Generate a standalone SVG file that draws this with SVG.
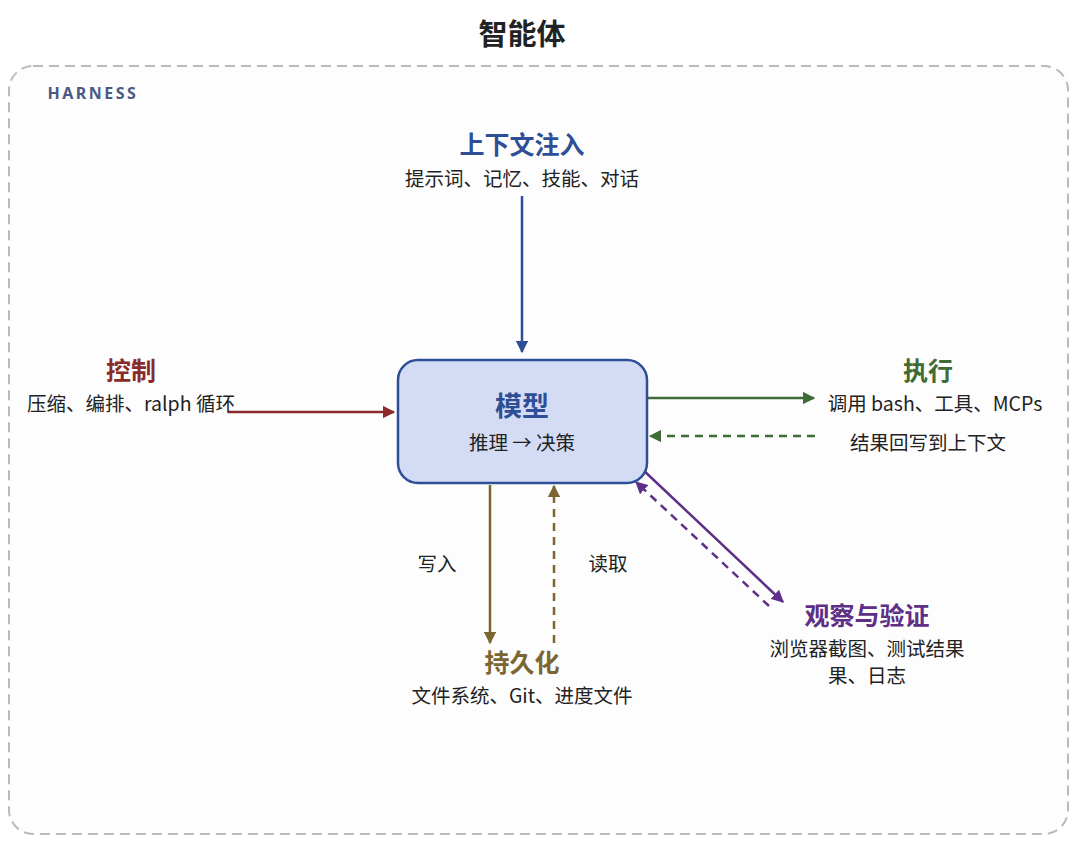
<svg xmlns="http://www.w3.org/2000/svg" width="1080" height="851" viewBox="0 0 1080 851">
<style>
text{font-family:"Noto Sans CJK SC","Noto Sans",sans-serif;text-anchor:middle}
.t{font-size:25px;font-weight:bold}
.s{font-size:19.5px;fill:#222}
.l{stroke-width:2.5;fill:none}
.d{stroke-dasharray:8 6}
</style>
<defs>
<marker id="ab" viewBox="0 0 10 10" refX="9" refY="5" markerWidth="5" markerHeight="5" orient="auto-start-reverse"><path d="M0,0L10,5L0,10z" fill="#2e4f95"/></marker>
<marker id="ar" viewBox="0 0 10 10" refX="9" refY="5" markerWidth="5" markerHeight="5" orient="auto-start-reverse"><path d="M0,0L10,5L0,10z" fill="#8b2a2a"/></marker>
<marker id="ag" viewBox="0 0 10 10" refX="9" refY="5" markerWidth="5" markerHeight="5" orient="auto-start-reverse"><path d="M0,0L10,5L0,10z" fill="#3f6b35"/></marker>
<marker id="ao" viewBox="0 0 10 10" refX="9" refY="5" markerWidth="5" markerHeight="5" orient="auto-start-reverse"><path d="M0,0L10,5L0,10z" fill="#7d6532"/></marker>
<marker id="ap" viewBox="0 0 10 10" refX="9" refY="5" markerWidth="5" markerHeight="5" orient="auto-start-reverse"><path d="M0,0L10,5L0,10z" fill="#5d2f86"/></marker>
</defs>
<rect width="1080" height="851" fill="#fff"/>
<text x="522" y="45" style="font-size:29px;font-weight:bold;fill:#222">智能体</text>
<g id="harness">
<rect x="9" y="66" width="1059" height="768" rx="24" fill="#fdfdfd" stroke="#bbb" stroke-width="2" stroke-dasharray="10 6"/>
<text x="93" y="99" style="font-family:'Noto Sans',sans-serif;font-size:16px;font-weight:bold;fill:#4a5a85;letter-spacing:2.5px">HARNESS</text>
</g>
<g id="connectors">
<path class="l" d="M522 196V352" stroke="#2e4f95" marker-end="url(#ab)"/>
<path class="l" d="M228 412H394" stroke="#8b2a2a" marker-end="url(#ar)"/>
<path class="l" d="M648 398H814" stroke="#3f6b35" marker-end="url(#ag)"/>
<path class="l d" d="M815 436H650" stroke="#3f6b35" marker-end="url(#ag)"/>
<path class="l" d="M490 485V643" stroke="#7d6532" marker-end="url(#ao)"/>
<path class="l d" d="M554 643V486" stroke="#7d6532" marker-end="url(#ao)"/>
<path class="l" d="M641 468L783 602" stroke="#5d2f86" marker-end="url(#ap)"/>
<path class="l d" d="M769 606L636 482" stroke="#5d2f86" marker-end="url(#ap)"/>
<text x="437" y="571" class="s">写入</text>
<text x="608" y="571" class="s">读取</text>
</g>
<g id="model">
<rect x="398" y="360" width="249" height="123" rx="20" fill="#d3dcf4" stroke="#2e4f95" stroke-width="2.5"/>
<text x="522" y="416" class="t" style="font-size:27px;fill:#2e4f95">模型</text>
<text x="522" y="450" class="s">推理 → 决策</text>
</g>
<g id="context">
<text x="522" y="154" class="t" style="fill:#2e4f95">上下文注入</text>
<text x="522" y="186" class="s">提示词、记忆、技能、对话</text>
</g>
<g id="control">
<text x="131" y="380" class="t" style="fill:#8b2a2a">控制</text>
<text x="131" y="411" class="s">压缩、编排、ralph 循环</text>
</g>
<g id="exec">
<text x="928" y="380" class="t" style="fill:#3f6b35">执行</text>
<text x="935" y="411" class="s">调用 bash、工具、MCPs</text>
<text x="928" y="450" class="s">结果回写到上下文</text>
</g>
<g id="persist">
<text x="522" y="672" class="t" style="fill:#7d6532">持久化</text>
<text x="522" y="703" class="s">文件系统、Git、进度文件</text>
</g>
<g id="observe">
<text x="867" y="625" class="t" style="fill:#5d2f86">观察与验证</text>
<text x="867" y="656" class="s">浏览器截图、测试结果</text>
<text x="867" y="683" class="s">果、日志</text>
</g>
</svg>
